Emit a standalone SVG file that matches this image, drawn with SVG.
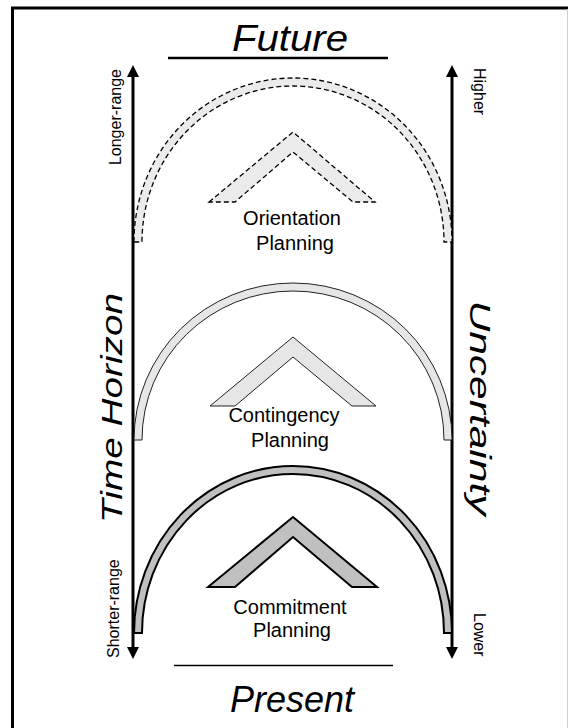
<svg xmlns="http://www.w3.org/2000/svg" width="568" height="728" viewBox="0 0 568 728">
  <style>
    text { font-family: "Liberation Sans", Arial, sans-serif; fill: #000; }
    .title { font-size: 36px; font-style: italic; text-anchor: middle; }
    .axis-title { font-size: 30px; font-style: italic; text-anchor: middle; }
    .tick { font-size: 16px; }
    .label { font-size: 20px; text-anchor: middle; }
    .axis { stroke: #000; stroke-width: 3; fill: none; }
    .rule { stroke: #000; fill: none; }
    .dashed { fill: #ebebeb; stroke: #000; stroke-width: 1.3; stroke-dasharray: 5 3; }
    .light { fill: #e6e6e6; stroke: #222; stroke-width: 1; }
    .dark { fill: #c0c0c0; stroke: #000; stroke-width: 2; }
  </style>
  <defs>
    <marker id="arrow" viewBox="0 0 12 12" refX="1" refY="6" markerWidth="12" markerHeight="12" markerUnits="userSpaceOnUse" orient="auto">
      <path d="M0,0 L12,6 L0,12 Z" fill="#000"/>
    </marker>
  </defs>

  <!-- frame -->
  <rect x="0" y="0" width="568" height="728" fill="#fff"/>
  <rect x="12.5" y="8" width="562" height="740" fill="none" stroke="#000" stroke-width="3"/>
  <line x1="567.5" y1="9" x2="567.5" y2="728" stroke="#d0d0d0" stroke-width="1"/>

  <!-- headings -->
  <g id="future">
    <text class="title" x="290" y="51" textLength="116" lengthAdjust="spacingAndGlyphs">Future</text>
    <line class="rule" x1="168" y1="58" x2="388" y2="58" stroke-width="2.5"/>
  </g>
  <g id="present">
    <line class="rule" x1="174" y1="665.5" x2="393" y2="665.5" stroke-width="1.5"/>
    <text class="title" x="292" y="712">Present</text>
  </g>

  <!-- axes -->
  <g id="connectors">
    <line class="axis" x1="133" y1="360" x2="133" y2="76" marker-end="url(#arrow)"/>
    <line class="axis" x1="133" y1="360" x2="133" y2="648" marker-end="url(#arrow)"/>
    <line class="axis" x1="452" y1="360" x2="452" y2="76" marker-end="url(#arrow)"/>
    <line class="axis" x1="452" y1="360" x2="452" y2="648" marker-end="url(#arrow)"/>
  </g>

  <!-- axis labels -->
  <g id="time-horizon">
    <text class="axis-title" transform="translate(122,408) rotate(-90)" textLength="230" lengthAdjust="spacingAndGlyphs">Time Horizon</text>
    <text class="tick" transform="translate(121,69) rotate(-90)" text-anchor="end">Longer-range</text>
    <text class="tick" transform="translate(119,658) rotate(-90)">Shorter-range</text>
  </g>
  <g id="uncertainty">
    <text class="axis-title" transform="translate(470,408) rotate(90)" textLength="215" lengthAdjust="spacingAndGlyphs">Uncertainty</text>
    <text class="tick" transform="translate(474,68) rotate(90)">Higher</text>
    <text class="tick" transform="translate(474,613) rotate(90)">Lower</text>
  </g>

  <!-- orientation planning -->
  <g id="orientation">
    <path class="dashed" d="M134,242 A159,164 0 0 1 452,242 L444,242 A151,156 0 0 0 142,242 Z"/>
    <polygon class="dashed" points="209,202 293,132 375,202 353,202 293,152 235,202"/>
    <text class="label" x="292" y="225">Orientation</text>
    <text class="label" x="295" y="250">Planning</text>
  </g>

  <!-- contingency planning -->
  <g id="contingency">
    <path class="light" d="M134,440 A159,157 0 0 1 452,440 L444,440 A151,149 0 0 0 142,440 Z"/>
    <polygon class="light" points="210,406 293,337 376,406 352,406 293,357 235,406"/>
    <text class="label" x="284" y="422">Contingency</text>
    <text class="label" x="290" y="447">Planning</text>
  </g>

  <!-- commitment planning -->
  <g id="commitment">
    <path class="dark" d="M134,633 A159,167 0 0 1 452,633 L444,633 A151,159 0 0 0 142,633 Z"/>
    <polygon class="dark" points="208,587 293,517 377,587 352,587 293,537 235,587"/>
    <text class="label" x="290" y="614">Commitment</text>
    <text class="label" x="292" y="637">Planning</text>
  </g>
</svg>
